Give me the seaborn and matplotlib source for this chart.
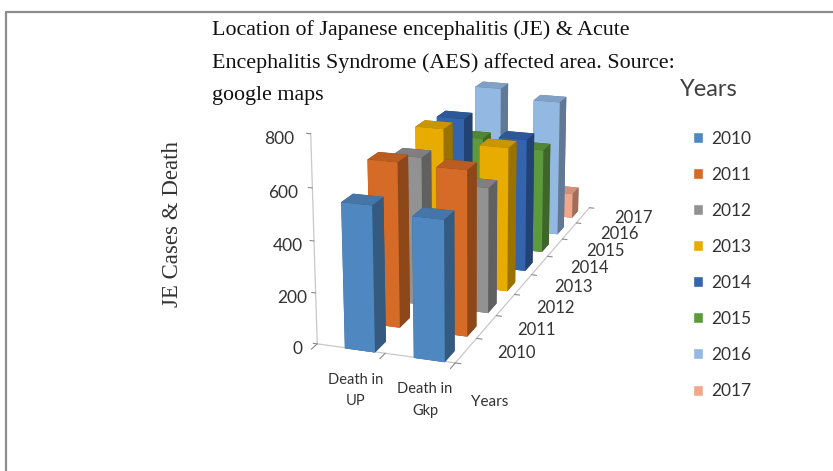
import matplotlib
matplotlib.use("Agg")
import matplotlib.pyplot as plt
from matplotlib.patches import Patch
from matplotlib.lines import Line2D
from mpl_toolkits.mplot3d import proj3d
import seaborn as sns

places = ["Death in\nUP", "Death in\nGkp"]
years = ["2010", "2011", "2012", "2013", "2014", "2015", "2016", "2017"]
death_up = [560, 650, 600, 650, 630, 482, 645, 60]
death_gkp = [536, 646, 506, 597, 565, 455, 605, 114]
year_colors = ["#4f88c0", "#d56b26", "#929292", "#e8ac00", "#3464ae", "#5c9a3c", "#93b8e2", "#f2a68a"]
z_ticks = [0, 200, 400, 600, 800]

title = ("Location of Japanese encephalitis (JE) & Acute\n"
         "Encephalitis Syndrome (AES) affected area. Source:\n"
         "google maps")

sns.set_theme(style="white")
plt.rcParams["font.family"] = ["Lato", "DejaVu Sans"]
palette = sns.color_palette(year_colors)


def face_colors(c):
    dark = [v * 0.66 for v in c]
    top = [v * 0.87 for v in c]
    # bottom, top, front, back, left, right
    return [dark, top, c, dark, dark, dark]


def axis_text(x, y, z, s, dx, dy, **kw):
    # mplot3d resets tick label transforms, so place labels from the projected point
    px, py, _ = proj3d.proj_transform(x, y, z, ax.get_proj())
    ax.annotate(s, (px, py), xytext=(dx, dy), textcoords="offset pixels", ha="center",
                va="center", annotation_clip=False, color="#333333", **kw)


fig = plt.figure(figsize=(8.33, 4.71), dpi=100)
ax = fig.add_axes([0.258, 0.2155, 0.6, 0.8], projection="3d")
ax.set_proj_type("persp", focal_length=0.75)
ax.view_init(elev=16.7, azim=-71.2)
ax.set_box_aspect((154, 545, 229), zoom=1.337)

bar_w = 0.44
bar_d = 0.45
for p, vals in enumerate([death_up, death_gkp]):
    for i, v in enumerate(vals):
        ax.bar3d(p + 0.64 - bar_w / 2, 0.2 + i * 1.043 - bar_d / 2, 0, bar_w, bar_d, v,
                 color=face_colors(palette[i]), shade=False, edgecolor="none")

ax.xaxis.set_pane_color((1, 1, 1, 0))
ax.yaxis.set_pane_color((1, 1, 1, 0))
ax.zaxis.set_pane_color((1, 1, 1, 0))
ax.xaxis.pane.set_edgecolor((1, 1, 1, 0))
ax.yaxis.pane.set_edgecolor((1, 1, 1, 0))
ax.zaxis.pane.set_edgecolor((1, 1, 1, 0))
ax.grid(False)

for axis in [ax.xaxis, ax.yaxis, ax.zaxis]:
    axis.line.set_color("#c8c8c8")
    axis.line.set_linewidth(0.9)
    axis._axinfo["tick"]["inward_factor"] = 0
    axis._axinfo["tick"]["outward_factor"] = 0

ax.set_xticks([0.5, 1.5])
ax.set_xticklabels([])
ax.set_yticks([i + 0.5 for i in range(len(years))])
ax.set_yticklabels([])
ax.set_zticks(z_ticks)
ax.set_zticklabels([])
ax.zaxis.set_ticks_position("lower")

# tick marks sit on the category edges, labels between them
tick_color = "#8a8a8a"
for v in range(len(places) + 1):
    ax.plot([v, v], [0, -0.22], [0, 0], color=tick_color, lw=0.8)
for v in range(len(years) + 1):
    ax.plot([2, 2.08], [v, v], [0, 0], color=tick_color, lw=0.8)
for z in z_ticks:
    ax.plot([0, -0.06], [0, 0], [z, z], color=tick_color, lw=0.8)

ax.set_xlim(0, 2)
ax.set_ylim(0, 8)
ax.set_zlim(0, 800)

for p, name in enumerate(places):
    axis_text(p + 0.5, 0, 0, name, 5, -42, fontsize=10.5, linespacing=1.7)
for i, y in enumerate(years):
    axis_text(2, i + 0.5, 0, y, 50, -3, fontsize=12)
for z in z_ticks:
    axis_text(0, 0, z, str(z), -20 - 0.015 * z, -5, fontsize=12.5)

handles = [Patch(facecolor=palette[i], label=y) for i, y in enumerate(years)]
leg = fig.legend(handles=handles, loc="upper left", frameon=False,
                 bbox_to_anchor=(0.813, 0.756), fontsize=12.5, labelspacing=1.157,
                 handlelength=0.6, handleheight=0.6, handletextpad=0.46)
for t in leg.get_texts():
    t.set_color("#333333")

fig.text(709 / 833, 1 - 90 / 471, "Years", fontsize=17, color="#404040", ha="center", va="center")
fig.text(212 / 833, 1 - 20 / 471, title, fontsize=15.85, family="Liberation Serif",
         color="#111111", va="top", ha="left", linespacing=1.9)
fig.text(172 / 833, 1 - 224 / 471, "JE Cases & Death", fontsize=16.5, rotation=90,
         family="Liberation Serif", color="#333333", ha="center", va="center")
fig.text(490 / 833, 1 - 402 / 471, "Years", fontsize=11, color="#333333", ha="center", va="center")

# outer frame of the original figure
frame = "#8c8c8c"
fig.add_artist(Line2D([6 / 833, 6 / 833], [1 - 12 / 471, 0], color=frame, lw=1.6))
fig.add_artist(Line2D([6 / 833, 1], [1 - 12 / 471, 1 - 12 / 471], color=frame, lw=1.6))

fig.savefig("out.png", dpi=100)
plt.close(fig)
